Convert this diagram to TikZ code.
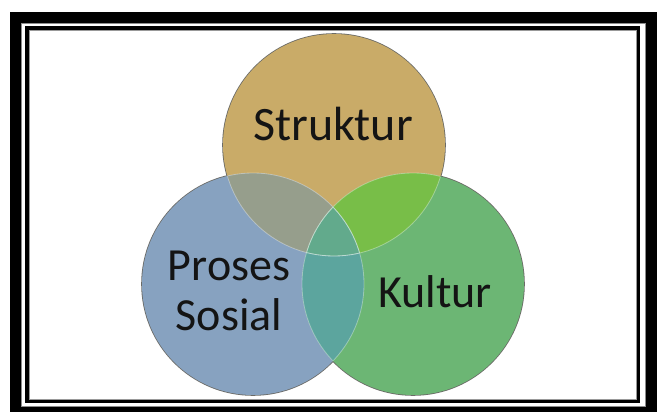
\documentclass[tikz,border=0pt]{standalone}
\usepackage{fontspec}
\setmainfont{Carlito}
\definecolor{struk}{HTML}{C9AB68}
\definecolor{blu}{HTML}{87A2C0}
\definecolor{grn}{HTML}{6CB674}
\definecolor{sbc}{HTML}{969E8C}
\definecolor{sgc}{HTML}{78BE48}
\definecolor{bgc}{HTML}{5CA59E}
\definecolor{allc}{HTML}{62AA8C}
\definecolor{edgec}{HTML}{6A6A66}
\definecolor{textc}{HTML}{141414}
\tikzset{
  lbl/.style={font=\fontsize{46}{50}\selectfont, text=textc, inner sep=0pt},
  venn/.style={circle, minimum size=222pt, inner sep=0pt, draw=none},
  innerarc/.style={draw=white, draw opacity=0.35, line width=0.8pt}
}
\begin{document}
\begin{tikzpicture}[x=1pt,y=-1pt]
\useasboundingbox (0,0) rectangle (657,412);
\fill[white] (0,0) rectangle (657,412);
% frame
\fill[black] (10,12) rectangle (657,412);
\fill[white] (21,23) rectangle (646,407);
\draw[black!45, line width=0.8pt] (21.4,23.4) rectangle (645.6,406.6);
\draw[black, line width=3.8pt] (27,28) rectangle (638.5,401.5);
\draw[black!40, line width=1pt] (29.4,30.4) rectangle (636.1,399.1);
% centres
\coordinate (S) at (334,145);
\coordinate (P) at (253,284);
\coordinate (K) at (413,284);
% dark rims
\fill[edgec] (S) circle (111.8pt);
\fill[edgec] (P) circle (111.8pt);
\fill[edgec] (K) circle (111.8pt);
% base circles
\node[venn, fill=struk] (struktur) at (S) {};
\node[venn, fill=blu] (proses) at (P) {};
\node[venn, fill=grn] (kultur) at (K) {};
% overlaps
\begin{scope}
  \clip (S) circle (111pt);
  \fill[sbc] (P) circle (111pt);
  \fill[sgc] (K) circle (111pt);
\end{scope}
\begin{scope}
  \clip (P) circle (111pt);
  \fill[bgc] (K) circle (111pt);
\end{scope}
\begin{scope}
  \clip (S) circle (111pt);
  \clip (P) circle (111pt);
  \fill[allc] (K) circle (111pt);
\end{scope}
% light inner arcs
\begin{scope}
  \clip (S) circle (110.6pt);
  \draw[innerarc] (P) circle (111pt);
  \draw[innerarc] (K) circle (111pt);
\end{scope}
\begin{scope}
  \clip (P) circle (110.6pt);
  \draw[innerarc] (S) circle (111pt);
  \draw[innerarc] (K) circle (111pt);
\end{scope}
\begin{scope}
  \clip (K) circle (110.6pt);
  \draw[innerarc] (S) circle (111pt);
  \draw[innerarc] (P) circle (111pt);
\end{scope}
% labels
\node[lbl, anchor=base, font=\fontsize{48}{52}\selectfont] (tstruk) at (333,140) {Struktur};
\node[lbl, align=center] (tproses) at (229,291) {Proses\\Sosial};
\node[lbl, anchor=base] (tkultur) at (435,307) {Kultur};
\end{tikzpicture}
\end{document}
